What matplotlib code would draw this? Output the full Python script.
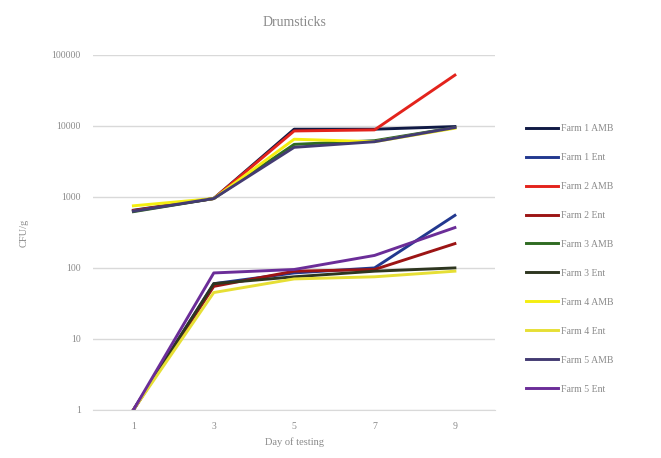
import numpy as np
import matplotlib.pyplot as plt

days = ['1', '3', '5', '7', '9']

labels = ['Farm 1 AMB', 'Farm 1 Ent', 'Farm 2 AMB', 'Farm 2 Ent', 'Farm 3 AMB',
          'Farm 3 Ent', 'Farm 4 AMB', 'Farm 4 Ent', 'Farm 5 AMB', 'Farm 5 Ent']

farm1_amb = [650, 950, 9000, 9000, 9800]
farm1_ent = [1, 60, 85, 100, 550]
farm2_amb = [640, 950, 8500, 8800, 52000]
farm2_ent = [1, 55, 90, 95, 220]
farm3_amb = [620, 950, 5500, 6200, 9500]
farm3_ent = [1, 60, 75, 90, 100]
farm4_amb = [750, 950, 6500, 6000, 9300]
farm4_ent = [1, 45, 70, 75, 90]
farm5_amb = [630, 950, 5000, 6000, 9500]
farm5_ent = [1, 85, 95, 150, 370]

series = [farm1_amb, farm1_ent, farm2_amb, farm2_ent, farm3_amb,
          farm3_ent, farm4_amb, farm4_ent, farm5_amb, farm5_ent]
colors = ['#101a45', '#22388f', '#e3231c', '#9c1414', '#2f6b22',
          '#2e3620', '#f4ee10', '#e6df35', '#433b72', '#6b2d98']

plt.rcParams['font.family'] = ['Liberation Serif', 'DejaVu Serif']

fig = plt.figure(figsize=(6.61, 4.58), dpi=100)
ax = fig.add_axes([0.141, 0.105, 0.608, 0.775])

x = np.arange(len(days))
for vals, lab, col in zip(series, labels, colors):
    ax.plot(x, vals, color=col, lw=2.1, label=lab)

ax.set_yscale('log')
ax.set_ylim(1, 100000)
ax.set_xlim(-0.5, 4.5)
ax.set_yticks([1, 10, 100, 1000, 10000, 100000])
ax.set_yticklabels(['1', '10', '100', '1000', '10000', '100000'])
ax.minorticks_off()
ax.set_xticks(x)
ax.set_xticklabels(days)
ax.yaxis.grid(True, color='#d9d9d9', lw=1)
ax.set_axisbelow(True)
for s in ['top', 'right', 'left']:
    ax.spines[s].set_visible(False)
ax.spines['bottom'].set_color('#d9d9d9')
ax.tick_params(length=0, labelsize=7, colors='#8a8a8a', pad=9)

ax.set_title('Drumsticks', fontsize=10, color='#8a8a8a', pad=21)
ax.set_xlabel('Day of testing', fontsize=7.5, color='#8a8a8a')
ax.set_ylabel('CFU/g', fontsize=7.5, color='#8a8a8a')
ax.yaxis.set_label_coords(-0.16, 0.5)

leg = fig.legend(loc='upper left', bbox_to_anchor=(0.783, 0.748), frameon=False,
                 fontsize=7, handlelength=3.3, handletextpad=0.3, labelspacing=2.05)
for t in leg.get_texts():
    t.set_color('#8a8a8a')

fig.savefig('out.png', dpi=100)
